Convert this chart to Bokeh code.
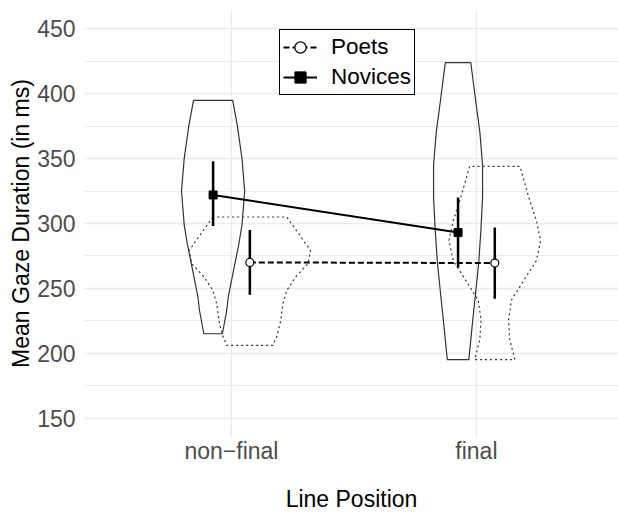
import numpy as np
from bokeh.plotting import figure
from bokeh.models import Range1d, FixedTicker, Legend, LegendItem
from bokeh.embed import file_html
from bokeh.resources import INLINE

# ---------------- data ----------------
positions = ["non−final", "final"]
pos_index = [1, 2]
groups = ["Poets", "Novices"]

poets_mean = [270.0, 269.5]
poets_lo = [245.0, 242.0]
poets_hi = [295.0, 297.0]

novices_mean = [322.0, 293.0]
novices_lo = [298.0, 266.0]
novices_hi = [348.0, 320.0]

# violin outlines: gaze duration levels (ms) and density half-widths (x units)
nov_nf_y = [395, 375.5, 350, 325, 299, 284, 269, 243.5, 233.5, 215]
nov_nf_w = [0.080, 0.099, 0.118, 0.129, 0.118, 0.105, 0.089, 0.062, 0.056, 0.038]
poe_nf_y = [305, 289, 279, 269, 259, 248.5, 238, 223, 213, 206]
poe_nf_w = [0.151, 0.211, 0.248, 0.237, 0.188, 0.151, 0.135, 0.124, 0.110, 0.094]
nov_f_y = [424, 396, 370.5, 345, 320, 294, 269, 243.5, 218, 195]
nov_f_w = [0.052, 0.071, 0.089, 0.100, 0.100, 0.093, 0.084, 0.070, 0.056, 0.044]
poe_f_y = [344, 320, 302, 287, 271.5, 256, 241, 225.5, 210.5, 195]
poe_f_w = [0.103, 0.139, 0.170, 0.187, 0.170, 0.118, 0.068, 0.056, 0.061, 0.082]

y_ticks = [150, 200, 250, 300, 350, 400, 450]
y_minor = [175, 225, 275, 325, 375, 425]

DODGE = 0.075

# ---------------- figure ----------------
p = figure(width=618, height=514, x_range=Range1d(0.4, 2.58), y_range=Range1d(135, 465),
           output_backend="svg", toolbar_location=None,
           min_border_left=84, min_border_right=0, min_border_top=9, min_border_bottom=72)
p.outline_line_color = None
p.background_fill_color = "white"

GRID = "#ebebeb"
p.xaxis.ticker = FixedTicker(ticks=pos_index)
p.xaxis.major_label_overrides = {i: lab for i, lab in zip(pos_index, positions)}
p.yaxis.ticker = FixedTicker(ticks=y_ticks, minor_ticks=y_minor)
for ax in (p.xaxis, p.yaxis):
    ax.axis_line_color = None
    ax.major_tick_line_color = None
    ax.minor_tick_line_color = None
    ax.major_tick_out = 0
    ax.major_tick_in = 0
    ax.minor_tick_out = 0
    ax.minor_tick_in = 0
    ax.major_label_text_font = "Liberation Sans"
    ax.major_label_text_font_size = "23px"
    ax.major_label_text_color = "#4d4d4d"
    ax.axis_label_text_font = "Liberation Sans"
    ax.axis_label_text_font_size = "23px"
    ax.axis_label_text_font_style = "normal"
    ax.axis_label_text_color = "black"
p.xaxis.axis_label = "Line Position"
p.yaxis.axis_label = "Mean Gaze Duration (in ms)"
p.xaxis.major_label_standoff = 0
p.yaxis.major_label_standoff = 9
p.xaxis.axis_label_standoff = 19
p.yaxis.axis_label_standoff = 0

p.xgrid.grid_line_color = GRID
p.xgrid.grid_line_width = 1.3
p.ygrid.grid_line_color = GRID
p.ygrid.grid_line_width = 1.3
p.ygrid.minor_grid_line_color = GRID
p.ygrid.minor_grid_line_width = 1.0


def violin(center, ys, ws, dash):
    xs = [center - w for w in ws] + [center + w for w in ws[::-1]]
    yy = list(ys) + list(ys[::-1])
    p.patch(xs, yy, fill_alpha=0, line_color="#333333", line_width=1.2, line_dash=dash)


violin(pos_index[0] + DODGE, poe_nf_y, poe_nf_w, "2 3")
violin(pos_index[1] + DODGE, poe_f_y, poe_f_w, "2 3")
violin(pos_index[0] - DODGE, nov_nf_y, nov_nf_w, "solid")
violin(pos_index[1] - DODGE, nov_f_y, nov_f_w, "solid")

px = [i + DODGE for i in pos_index]
nx = [i - DODGE for i in pos_index]

poets_line = p.line(px, poets_mean, line_color="black", line_width=2, line_dash="6 3")
nov_line = p.line(nx, novices_mean, line_color="black", line_width=2)

p.segment(x0=px, y0=poets_lo, x1=px, y1=poets_hi, line_color="black", line_width=2.5)
p.segment(x0=nx, y0=novices_lo, x1=nx, y1=novices_hi, line_color="black", line_width=2.5)

poets_pts = p.scatter(px, poets_mean, marker="circle", size=8, fill_color="white",
                      line_color="black", line_width=1.2)
nov_pts = p.scatter(nx, novices_mean, marker="square", size=8, fill_color="black",
                    line_color="black")

legend = Legend(items=[LegendItem(label="Poets", renderers=[poets_line, poets_pts]),
                       LegendItem(label="Novices", renderers=[nov_line, nov_pts])],
                location=(195, 342))
legend.border_line_color = "black"
legend.border_line_width = 1
legend.border_line_alpha = 1
legend.background_fill_alpha = 1
legend.padding = 3
legend.margin = 0
legend.spacing = 2
legend.glyph_width = 34
legend.glyph_height = 28
legend.label_height = 28
legend.label_standoff = 14
legend.label_text_font = "Liberation Sans"
legend.label_text_font_size = "22.5px"
legend.label_text_color = "black"
p.add_layout(legend, "center")

open("out.html", "w").write(file_html(p, INLINE))
